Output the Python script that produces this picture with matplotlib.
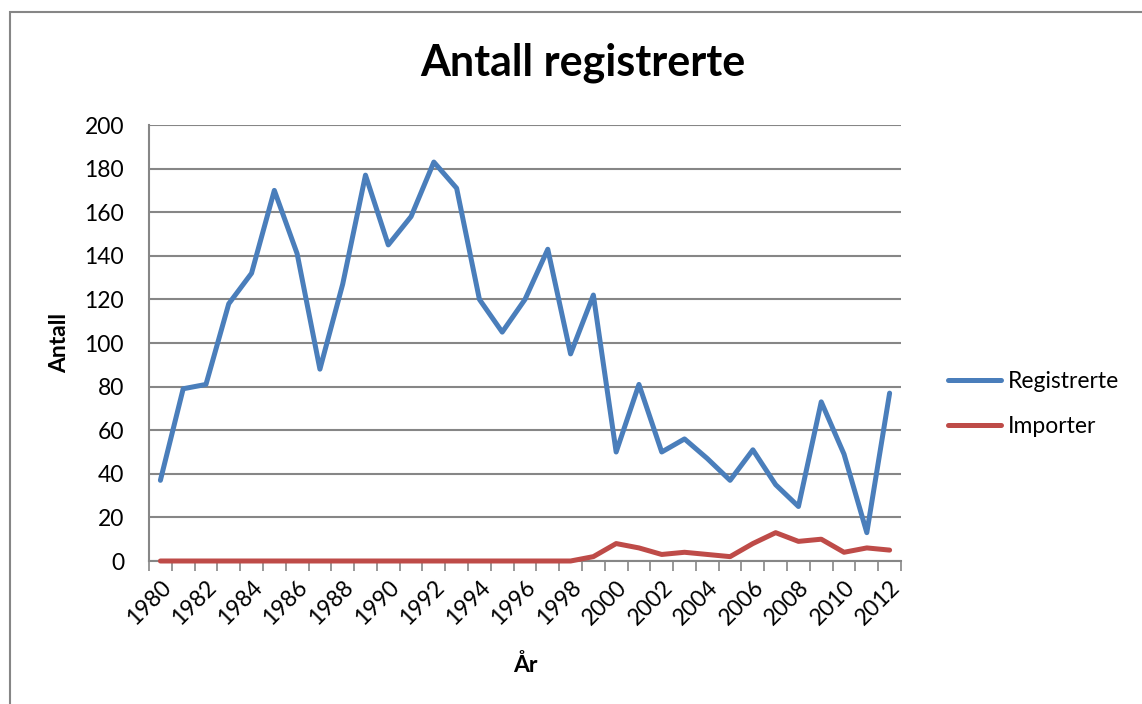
import matplotlib

matplotlib.use("Agg")
import matplotlib.pyplot as plt  # noqa: E402
from matplotlib.patches import Rectangle  # noqa: E402

plt.rcParams["font.family"] = ["Lato", "DejaVu Sans"]

# data
years = list(range(1980, 2013))
registrerte = [37, 79, 81, 118, 132, 170, 141, 88, 127, 177, 145, 158, 183, 171,
               120, 105, 120, 143, 95, 122, 50, 81, 50, 56, 47, 37, 51, 35, 25,
               73, 49, 13, 77]
importer = [0] * 19 + [2, 8, 6, 3, 4, 3, 2, 8, 13, 9, 10, 4, 6, 5]
y_ticks = list(range(0, 201, 20))

BLUE = "#4A7EBB"
RED = "#BE4B48"
GRID = "#868686"
W, H = 1142, 704

fig = plt.figure(figsize=(W / 100, H / 100), dpi=100)
ax = fig.add_axes([149 / W, 1 - 561 / H, 752 / W, 436 / H])

# outer chart border (runs off the right and bottom edges)
fig.patches.append(Rectangle((10 / W, -0.05), 1.2, 1 - 12 / H + 0.05,
                             transform=fig.transFigure, fill=False,
                             edgecolor=GRID, linewidth=1.5))

x = list(range(len(years)))
for values, color, label in [(registrerte, BLUE, "Registrerte"),
                             (importer, RED, "Importer")]:
    ax.plot(x, values, color=color, linewidth=3.6, solid_joinstyle="round",
            solid_capstyle="round", label=label, clip_on=False, zorder=3)

ax.set_xlim(-0.5, len(years) - 0.5)
ax.set_ylim(0, 200)
ax.set_yticks(y_ticks)
ax.yaxis.grid(True, color=GRID, linewidth=1.5)
ax.set_axisbelow(True)

ax.set_xticks(x[::2])
ax.set_xticklabels([str(y) for y in years[::2]], rotation=45, ha="right",
                   rotation_mode="anchor", fontsize=16.5)
ax.set_xticks([i - 0.5 for i in range(len(years) + 1)], minor=True)
ax.tick_params(axis="x", which="major", length=0, pad=11)
ax.tick_params(axis="x", which="minor", length=7, width=1.2, color=GRID)
ax.tick_params(axis="y", length=0, labelsize=16.5, pad=18)

for side in ("top", "right"):
    ax.spines[side].set_visible(False)
for side in ("left", "bottom"):
    ax.spines[side].set_color(GRID)
    ax.spines[side].set_linewidth(1.5)

fig.text(583 / W, 1 - 63 / H, "Antall registrerte", fontsize=31,
         fontweight="bold", ha="center", va="center")
ax.set_ylabel("Antall", fontsize=16.5, fontweight="bold", labelpad=10)
ax.set_xlabel("År", fontsize=16.5, fontweight="bold", labelpad=18)

ax.legend(loc="center left", bbox_to_anchor=(948 / W, 1 - 404 / H),
          bbox_transform=fig.transFigure, frameon=False, fontsize=16.5,
          handlelength=2.3, handletextpad=0.3, labelspacing=1.05,
          borderpad=0, borderaxespad=0)

fig.savefig("out.png", dpi=100)
